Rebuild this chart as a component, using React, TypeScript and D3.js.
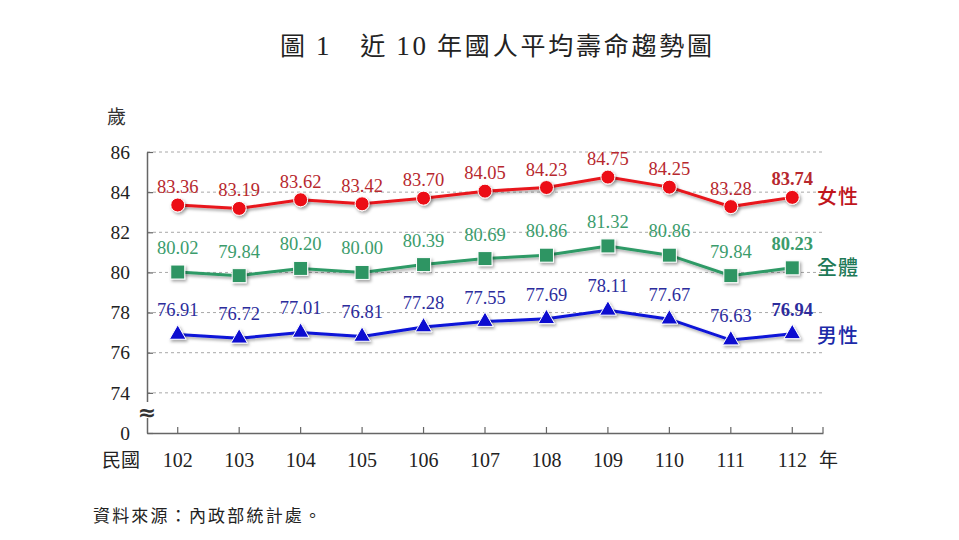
import React, { useEffect, useRef } from 'react';
import * as d3 from 'd3';

// 近10年國人平均壽命 (民國102-112年)
const years = ['102', '103', '104', '105', '106', '107', '108', '109', '110', '111', '112'];
const female = [83.36, 83.19, 83.62, 83.42, 83.7, 84.05, 84.23, 84.75, 84.25, 83.28, 83.74];
const total = [80.02, 79.84, 80.2, 80.0, 80.39, 80.69, 80.86, 81.32, 80.86, 79.84, 80.23];
const male = [76.91, 76.72, 77.01, 76.81, 77.28, 77.55, 77.69, 78.11, 77.67, 76.63, 76.94];
const yTicks = [72, 74, 76, 78, 80, 82, 84, 86];

const serif = '"Liberation Serif", "Times New Roman", serif';
const cjk = '"Noto Sans CJK TC", "Noto Sans CJK SC", sans-serif';

const App = () => {
  const svgRef = useRef<SVGSVGElement>(null);

  useEffect(() => {
    const width = 959;
    const height = 540;
    const svg = d3.select(svgRef.current).attr('width', width).attr('height', height);
    svg.selectAll('*').remove();

    const left = 147;
    const right = 823;
    const bottom = 433;
    const top = 152;

    const x = d3.scaleBand().domain(years).range([left, right]).padding(0);
    const cx = (i: number) => (x(years[i]) as number) + x.bandwidth() / 2;
    // 72 is drawn as "0" (broken axis)
    const y = d3.scaleLinear().domain([72, 86]).range([bottom, top]);

    const defs = svg.append('defs');
    const f = defs.append('filter').attr('id', 'shadow').attr('x', '-50%').attr('y', '-50%').attr('width', '200%').attr('height', '200%');
    f.append('feDropShadow').attr('dx', 1.5).attr('dy', 2).attr('stdDeviation', 1.5).attr('flood-color', '#000').attr('flood-opacity', 0.35);

    // title, digits in serif
    const title = svg.append('text')
      .attr('x', 280).attr('y', 55)
      .attr('textLength', 432).attr('lengthAdjust', 'spacing')
      .style('font-family', cjk).style('font-size', '25px').attr('fill', '#222');
    [['圖 ', cjk], ['1', serif], ['　近 ', cjk], ['10', serif], [' 年國人平均壽命趨勢圖', cjk]].forEach(([t, ff]) => {
      title.append('tspan').style('font-family', ff).style('font-size', ff === serif ? '27px' : '25px').text(t);
    });

    // gridlines
    svg.append('g').selectAll('line')
      .data(yTicks.filter(d => d > 72))
      .enter().append('line')
      .attr('x1', left).attr('x2', right)
      .attr('y1', d => y(d)).attr('y2', d => y(d))
      .attr('stroke', '#a8a8a8').attr('stroke-width', 1).attr('stroke-dasharray', '3,3');

    // y axis
    const yAxis = svg.append('g').attr('transform', `translate(${left},0)`)
      .call(d3.axisLeft(y).tickValues(yTicks).tickSize(-6).tickSizeOuter(0).tickPadding(17)
        .tickFormat(d => (d === 72 ? '0' : String(d))));
    yAxis.select('.domain').attr('stroke', '#666').attr('stroke-width', 1.5);
    yAxis.selectAll('.tick line').attr('stroke', '#666').attr('stroke-width', 1.2);
    yAxis.selectAll('text').style('font-family', serif).style('font-size', '19.5px').attr('fill', '#222');

    // x axis
    const xAxis = svg.append('g').attr('transform', `translate(0,${bottom})`)
      .call(d3.axisBottom(x).tickSize(-6).tickSizeOuter(0).tickPadding(20));
    xAxis.select('.domain').attr('stroke', '#666').attr('stroke-width', 1.5);
    xAxis.selectAll('.tick line').attr('stroke', '#666').attr('stroke-width', 1.2);
    xAxis.selectAll('text').style('font-family', serif).style('font-size', '20px').attr('fill', '#222');
    xAxis.append('line').attr('x1', right).attr('x2', right).attr('y1', 0).attr('y2', -6)
      .attr('stroke', '#666').attr('stroke-width', 1.2);

    // axis break
    svg.append('rect').attr('x', left - 7).attr('y', 402).attr('width', 14).attr('height', 16).attr('fill', '#fff');
    svg.append('text').attr('x', left).attr('y', 420).attr('text-anchor', 'middle')
      .style('font-family', '"DejaVu Sans", sans-serif').style('font-size', '22px').style('font-weight', 'bold')
      .attr('fill', '#333').text('≈');

    // unit labels
    svg.append('text').attr('x', 107).attr('y', 124).style('font-family', cjk).style('font-size', '19px').attr('fill', '#333').text('歲');
    svg.append('text').attr('x', 102).attr('y', 467).style('font-family', cjk).style('font-size', '19px').attr('fill', '#222').text('民國');
    svg.append('text').attr('x', 819).attr('y', 467).style('font-family', cjk).style('font-size', '19px').attr('fill', '#222').text('年');

    const series = [
      { name: '女性', values: female, line: '#e8161c', mark: '#ec1016', label: '#b7282e', legend: '#c0151c', shape: 'circle', off: 12, ly: 204 },
      { name: '全體', values: total, line: '#2e9a66', mark: '#2f9563', label: '#3b9c6c', legend: '#1f7a58', shape: 'square', off: 18, ly: 275 },
      { name: '男性', values: male, line: '#0c12d8', mark: '#0e0ed0', label: '#2c2c9c', legend: '#1c2aa8', shape: 'triangle', off: 18, ly: 343 },
    ];

    const line = d3.line<number>().x((_, i) => cx(i)).y(d => y(d));

    series.forEach(s => {
      const g = svg.append('g');
      g.append('path').datum(s.values).attr('d', line).attr('fill', 'none')
        .attr('stroke', s.line).attr('stroke-width', 3).attr('filter', 'url(#shadow)');

      const marks = g.selectAll('.mark').data(s.values).enter();
      if (s.shape === 'circle') {
        marks.append('circle').attr('cx', (_, i) => cx(i)).attr('cy', d => y(d)).attr('r', 7)
          .attr('fill', s.mark).attr('stroke', '#fff').attr('stroke-width', 1).attr('filter', 'url(#shadow)');
      } else if (s.shape === 'square') {
        marks.append('rect').attr('x', (_, i) => cx(i) - 7).attr('y', d => y(d) - 7).attr('width', 14).attr('height', 14)
          .attr('fill', s.mark).attr('stroke', '#fff').attr('stroke-width', 1).attr('filter', 'url(#shadow)');
      } else {
        marks.append('path').attr('d', d3.symbol(d3.symbolTriangle, 120)())
          .attr('transform', (d, i) => `translate(${cx(i)},${y(d)})`)
          .attr('fill', s.mark).attr('stroke', '#fff').attr('stroke-width', 1).attr('filter', 'url(#shadow)');
      }

      g.selectAll('.lbl').data(s.values).enter().append('text')
        .attr('x', (_, i) => cx(i)).attr('y', d => y(d) - s.off)
        .attr('text-anchor', 'middle')
        .style('font-family', serif).style('font-size', '18.5px')
        .style('font-weight', (_, i) => (i === s.values.length - 1 ? 'bold' : 'normal'))
        .attr('fill', s.label)
        .text(d => d.toFixed(2));

      g.append('text').attr('x', 817).attr('y', s.ly)
        .style('font-family', cjk).style('font-size', '20px').style('font-weight', 500)
        .attr('letter-spacing', 1).attr('fill', s.legend).text(s.name);
    });

    // source
    svg.append('text').attr('x', 93).attr('y', 522)
      .attr('textLength', 228).attr('lengthAdjust', 'spacing')
      .style('font-family', cjk).style('font-size', '17px').attr('fill', '#222')
      .text('資料來源：內政部統計處。');
  }, []);

  return (
    <div>
      <svg ref={svgRef} style={{ position: 'absolute', left: 0, top: 0, background: '#fff' }}></svg>
    </div>
  );
};

export default App;
